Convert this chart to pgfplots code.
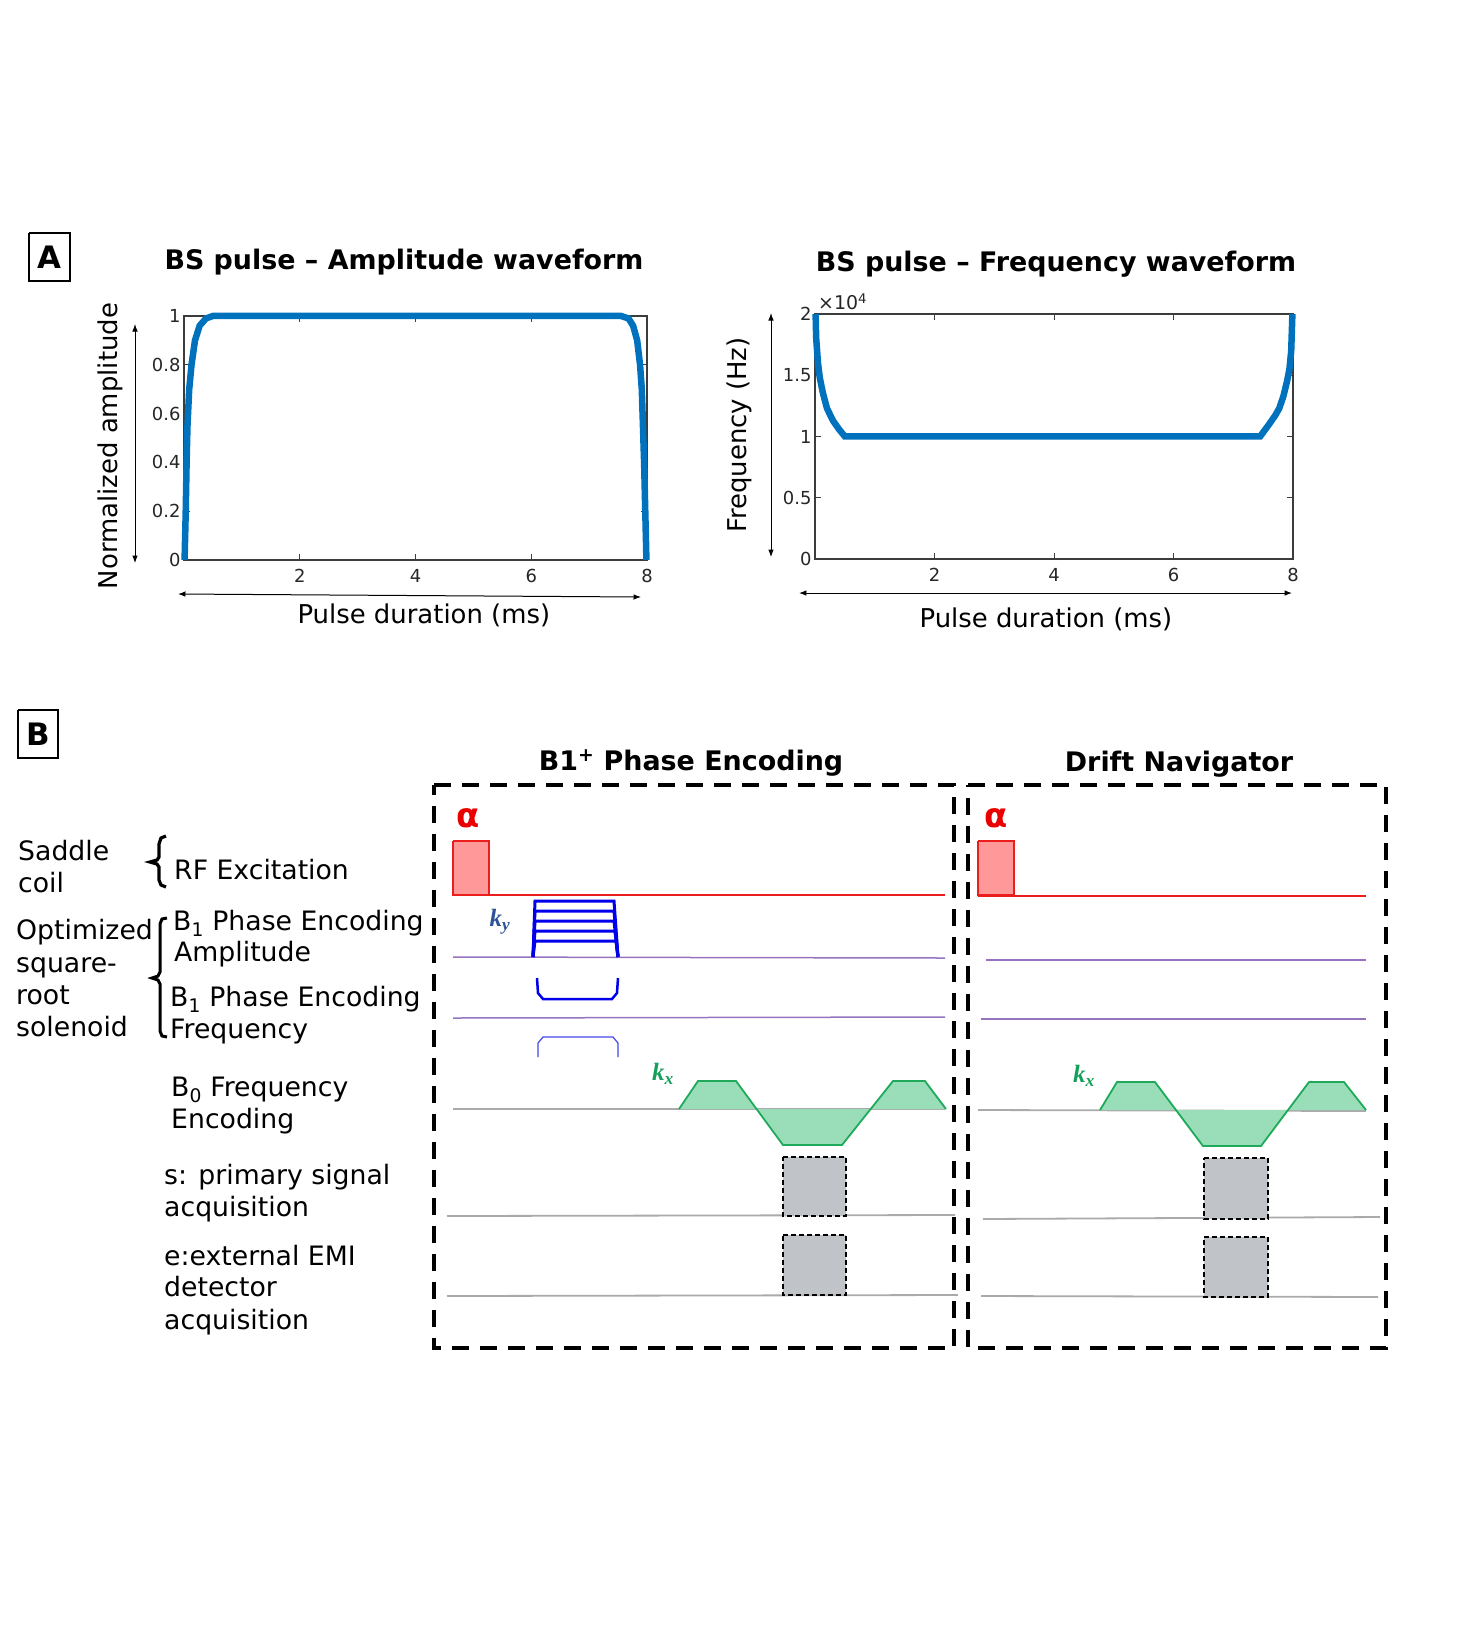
\documentclass[border=0pt]{standalone}
\usepackage{pgfplots}
\pgfplotsset{compat=1.18}
\usepackage{fontspec}
\setmainfont{DejaVu Sans}
\newfontfamily\kfont{Liberation Serif}
\usetikzlibrary{arrows.meta}

\definecolor{mblue}{RGB}{0,114,189}
\definecolor{rffill}{RGB}{255,153,153}
\definecolor{rfline}{RGB}{235,30,30}
\definecolor{alphared}{RGB}{235,0,0}
\definecolor{purpl}{RGB}{150,115,190}
\definecolor{basegray}{RGB}{170,170,170}
\definecolor{trapblue}{RGB}{0,0,235}
\definecolor{thinblue}{RGB}{70,70,235}
\definecolor{gfill}{RGB}{153,222,184}
\definecolor{gline}{RGB}{30,170,90}
\definecolor{boxgray}{RGB}{192,195,200}
\definecolor{kyc}{RGB}{47,84,150}
\definecolor{kxc}{RGB}{20,160,90}
\definecolor{axgray}{RGB}{60,60,60}

\newcommand{\labf}{\fontsize{26}{32}\selectfont}
\newcommand{\blabf}{\fontsize{26.8}{32}\selectfont}
\newcommand{\ttlf}{\fontsize{27}{32}\selectfont\bfseries}
\newcommand{\tckf}{\fontsize{18}{21}\selectfont}
\newcommand{\kvar}[1]{{\kfont\bfseries\itshape k\textsubscript{#1}}}

\begin{document}
\begin{tikzpicture}
% ---------------- background axis in pixel coordinates ----------------
\begin{axis}[name=bg, at={(0,0)}, anchor=south west, scale only axis,
  width=1459bp, height=1632bp, xmin=0, xmax=1459, ymin=0, ymax=1632,
  y dir=reverse, axis lines=none, clip=false]

% panel letter boxes
\addplot[black, line width=1.2bp] coordinates {(29,233)(70,233)(70,281)(29,281)(29,233)};
\addplot[black, line width=1.2bp] coordinates {(18,710)(58,710)(58,758)(18,758)(18,710)};

% panel A arrows
\addplot[black, line width=1bp, <->, >=Latex] coordinates {(135,324)(135,563)};
\addplot[black, line width=1bp, <->, >=Latex] coordinates {(178,594)(641,597)};
\addplot[black, line width=1bp, <->, >=Latex] coordinates {(771,313)(771,557)};
\addplot[black, line width=1bp, <->, >=Latex] coordinates {(799,593)(1292,593)};

% braces (polylines)
\addplot[black, line width=3.2bp] coordinates {(166,836)(161,838)(159,844)(159,857)(157,860)(150,862)(157,864)(159,867)(159,880)(161,885)(166,887)};
\addplot[black, line width=3bp] coordinates {(167,918)(162,919)(160,924)(160,972)(158,976)(152,978)(158,980)(160,984)(160,1031)(162,1036)(167,1037)};

% dashed frames
\addplot[black, line width=3.5bp, dash pattern=on 17bp off 11bp] coordinates {(434,785)(954,785)(954,1348)(434,1348)(434,785)};
\addplot[black, line width=3.5bp, dash pattern=on 17bp off 11bp] coordinates {(968,785)(1386,785)(1386,1348)(968,1348)(968,785)};

% ===== box 1: B1+ phase encoding =====
\addplot[rfline, line width=1.3bp] coordinates {(453,895)(945,895)};
\addplot[purpl, line width=1.5bp] coordinates {(453,957)(945,958)};
\addplot[purpl, line width=1.5bp] coordinates {(453,1018)(945,1017)};
\addplot[basegray, line width=1.8bp] coordinates {(453,1109)(945,1109)};
\addplot[basegray, line width=1.8bp] coordinates {(447,1216)(955,1215)};
\addplot[basegray, line width=1.8bp] coordinates {(447,1296)(958,1295)};
\addplot[fill=rffill, draw=rfline, line width=2bp] coordinates {(453,841)(489,841)(489,895)(453,895)(453,841)};
\addplot[trapblue, line width=3bp] coordinates {(533,957)(535,901)(614,901)(618,957)};
\addplot[trapblue, line width=3bp] coordinates {(533,957)(535,911)(614,911)(618,957)};
\addplot[trapblue, line width=3bp] coordinates {(533,957)(535,921)(614,921)(618,957)};
\addplot[trapblue, line width=3bp] coordinates {(533,957)(535,931)(615,931)(618,957)};
\addplot[trapblue, line width=3bp] coordinates {(533,957)(535,941)(616,941)(618,957)};
\addplot[trapblue, line width=2.5bp] coordinates {(537,978)(538,993)(543,999)(612,999)(617,993)(618,978)};
\addplot[thinblue, line width=1.2bp] coordinates {(538,1057)(538,1043)(543,1037)(613,1037)(618,1043)(618,1057)};
\addplot[fill=gfill, draw=none] coordinates {(679,1109)(698,1081)(736,1081)(783,1145)(842,1145)(893,1081)(925,1081)(946,1109)(679,1109)};
\addplot[gline, line width=1.8bp] coordinates {(679,1109)(698,1081)(736,1081)(783,1145)(842,1145)(893,1081)(925,1081)(946,1109)};
\addplot[fill=boxgray, draw=black, line width=1.5bp, dash pattern=on 5bp off 3bp] coordinates {(783,1157)(846,1157)(846,1216)(783,1216)(783,1157)};
\addplot[fill=boxgray, draw=black, line width=1.5bp, dash pattern=on 5bp off 3bp] coordinates {(783,1235)(846,1235)(846,1295)(783,1295)(783,1235)};

% ===== box 2: drift navigator =====
\addplot[rfline, line width=1.3bp] coordinates {(978,896)(1366,896)};
\addplot[purpl, line width=1.5bp] coordinates {(986,960)(1366,960)};
\addplot[purpl, line width=1.5bp] coordinates {(981,1019)(1366,1019)};
\addplot[basegray, line width=1.8bp] coordinates {(978,1110)(1366,1111)};
\addplot[basegray, line width=1.8bp] coordinates {(983,1219)(1380,1217)};
\addplot[basegray, line width=1.8bp] coordinates {(981,1296)(1378,1297)};
\addplot[fill=rffill, draw=rfline, line width=2bp] coordinates {(978,841)(1014,841)(1014,895)(978,895)(978,841)};
\addplot[fill=gfill, draw=none] coordinates {(1100,1110)(1117,1082)(1155,1082)(1203,1146)(1261,1146)(1309,1082)(1344,1082)(1366,1110)(1100,1110)};
\addplot[gline, line width=1.8bp] coordinates {(1100,1110)(1117,1082)(1155,1082)(1203,1146)(1261,1146)(1309,1082)(1344,1082)(1366,1110)};
\addplot[fill=boxgray, draw=black, line width=1.5bp, dash pattern=on 5bp off 3bp] coordinates {(1204,1158)(1268,1158)(1268,1219)(1204,1219)(1204,1158)};
\addplot[fill=boxgray, draw=black, line width=1.5bp, dash pattern=on 5bp off 3bp] coordinates {(1204,1237)(1268,1237)(1268,1297)(1204,1297)(1204,1237)};
\end{axis}

% ---------------- text, in pixel coordinates ----------------
\begin{scope}[shift={(0,1632bp)}, x=1bp, y=-1bp]
\node[font=\fontsize{31}{31}\selectfont\bfseries] at (49.5,257) {A};
\node[font=\fontsize{31}{31}\selectfont\bfseries] at (38,734) {B};
\node[font=\ttlf] at (404,262) {BS pulse – Amplitude waveform};
\node[font=\ttlf] at (1056,264) {BS pulse – Frequency waveform};
\node[font=\fontsize{19}{21}\selectfont, anchor=base west, inner sep=0, text=black!85] at (818,310) {×10\textsuperscript{4}};
\node[font=\ttlf] at (691,763) {B1\textsuperscript{+} Phase Encoding};
\node[font=\ttlf] at (1179,764) {Drift Navigator};
\begin{scope}[every node/.style={font=\blabf, anchor=base west, inner sep=0}]
\node at (18,861) {Saddle};
\node at (18,893) {coil};
\node at (174,880) {RF Excitation};
\node at (16,940) {Optimized};
\node at (16,973) {square-};
\node at (16,1005) {root};
\node at (16,1037) {solenoid};
\node at (173,931) {B\textsubscript{1} Phase Encoding};
\node at (174,962) {Amplitude};
\node at (170,1007) {B\textsubscript{1} Phase Encoding};
\node at (170,1039) {Frequency};
\node at (171,1097) {B\textsubscript{0} Frequency};
\node at (171,1129) {Encoding};
\node at (164,1185) {s: primary signal};
\node at (164,1217) {acquisition};
\node at (164,1266) {e:external EMI};
\node at (164,1297) {detector};
\node at (164,1330) {acquisition};
\end{scope}
\node[font=\fontsize{34}{34}\selectfont\bfseries, text=alphared] at (468,818) {α};
\node[font=\fontsize{34}{34}\selectfont\bfseries, text=alphared] at (996,818) {α};
\node[font=\fontsize{25}{25}\selectfont, text=kyc] at (500,922) {\kvar{y}};
\node[font=\fontsize{25}{25}\selectfont, text=kxc] at (663,1074) {\kvar{x}};
\node[font=\fontsize{25}{25}\selectfont, text=kxc] at (1084,1076) {\kvar{x}};
\end{scope}

% ---------------- panel A: amplitude ----------------
\begin{axis}[at={(184bp,1072bp)}, anchor=south west, scale only axis,
  width=463bp, height=244bp, xmin=0, xmax=8, ymin=0, ymax=1,
  xtick={2,4,6,8}, ytick={0,0.2,0.4,0.6,0.8,1},
  tick align=inside, major tick length=6bp,
  axis line style={draw=axgray, line width=1.1bp},
  tick style={draw=axgray, line width=1bp},
  tick label style={font=\tckf, text=black!85},
  xticklabel style={yshift=-6bp},
  /pgf/number format/assume math mode=true,
  xlabel={Pulse duration (ms)}, ylabel={Normalized amplitude},
  label style={font=\labf},
  x label style={at={(axis description cs:0.518,-0.225)}, anchor=center},
  y label style={at={(axis description cs:-0.16,0.467)}, anchor=center},
  clip=false]
\addplot[mblue, line width=6.5bp] coordinates {
 (0.01,0) (0.03,0.2) (0.045,0.4) (0.06,0.55) (0.09,0.7) (0.13,0.8) (0.19,0.9)
 (0.27,0.96) (0.38,0.99) (0.5,1.0) (7.55,1.0) (7.68,0.99) (7.76,0.96) (7.83,0.9)
 (7.88,0.8) (7.91,0.7) (7.93,0.55) (7.95,0.4) (7.97,0.2) (7.99,0)};
\end{axis}

% ---------------- panel A: frequency ----------------
\begin{axis}[at={(815bp,1073bp)}, anchor=south west, scale only axis,
  width=478bp, height=245bp, xmin=0, xmax=8, ymin=0, ymax=20000,
  xtick={2,4,6,8}, ytick={0,5000,10000,15000,20000},
  yticklabels={0,0.5,1,1.5,2}, scaled y ticks=false,
  tick align=inside, major tick length=6bp,
  axis line style={draw=axgray, line width=1.1bp},
  tick style={draw=axgray, line width=1bp},
  tick label style={font=\tckf, text=black!85},
  xticklabel style={yshift=-6bp},
  /pgf/number format/assume math mode=true,
  xlabel={Pulse duration (ms)}, ylabel={Frequency (Hz)},
  label style={font=\labf},
  x label style={at={(axis description cs:0.483,-0.245)}, anchor=center},
  y label style={at={(axis description cs:-0.159,0.506)}, anchor=center},
  clip=false]
\addplot[mblue, line width=6.5bp] coordinates {
 (0.01,20000) (0.02,18000) (0.05,16000) (0.08,14800) (0.13,13600) (0.2,12300)
 (0.3,11300) (0.4,10600) (0.5,10000) (7.45,10000) (7.6,11000) (7.7,11700)
 (7.77,12300) (7.84,13300) (7.9,14500) (7.94,15500) (7.97,17000) (7.99,20000)};
\end{axis}

\pgfresetboundingbox
\path[use as bounding box] (0,0) rectangle (1459bp,1632bp);
\end{tikzpicture}
\end{document}
